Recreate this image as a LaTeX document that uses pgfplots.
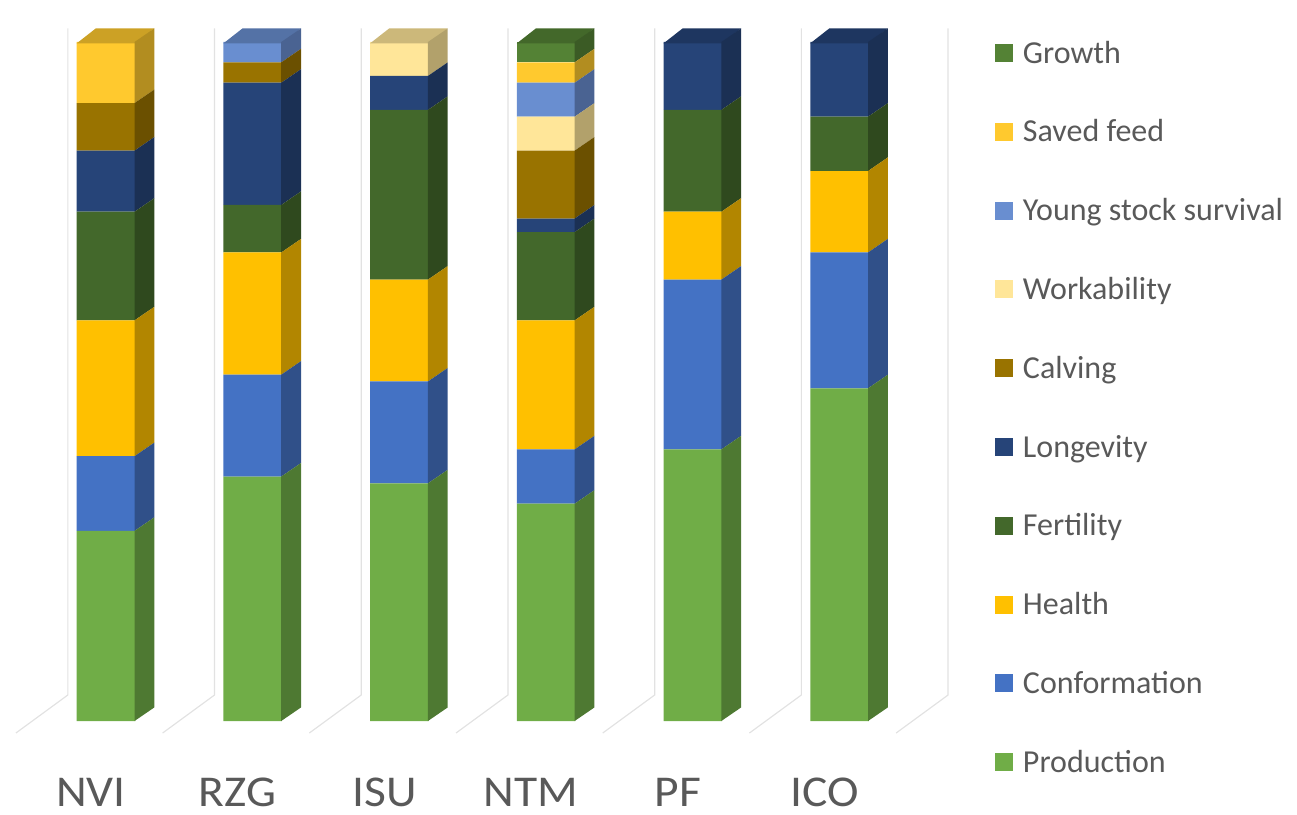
\documentclass[border=0pt]{standalone}
\usepackage{fontspec}
\setmainfont{Carlito}
\usepackage{pgfplots}
\usepackage{pgfplotstable}
\pgfplotsset{compat=1.18}

\definecolor{prod}{HTML}{70AD47}
\definecolor{conf}{HTML}{4472C4}
\definecolor{health}{HTML}{FFC000}
\definecolor{fert}{HTML}{43682B}
\definecolor{long}{HTML}{264478}
\definecolor{calv}{HTML}{997300}
\definecolor{work}{HTML}{FFE699}
\definecolor{young}{HTML}{698ED0}
\definecolor{saved}{HTML}{FFC92E}
\definecolor{growth}{HTML}{548235}
\definecolor{txtgray}{HTML}{595959}
\definecolor{gridgray}{HTML}{E2E2E2}

\pgfplotstableread{
x prod conf health fert long calv work young saved growth
0 28 11 20 16 9 7 0 0 9 0
1 36 15 18 7 18 3 0 3 0 0
2 35 15 15 25 5 0 5 0 0 0
3 32 8 19 13 2 10 5 5 3 3
4 40 25 10 15 10 0 0 0 0 0
5 49 20 12 8 11 0 0 0 0 0
}\data

% side face of a segment: colour, category, lower, upper (cumulative)
\newcommand{\sideface}[4]{%
  \pgfmathsetmacro{\xa}{#2+0.1945}%
  \pgfmathsetmacro{\xb}{#2+0.3295}%
  \pgfmathsetmacro{\ya}{#3+2}%
  \pgfmathsetmacro{\yb}{#4+2}%
  \addplot[sharp plot, stack plots=false, fill=#1!70!black, draw=none, forget plot]
    coordinates {(\xa,#3) (\xb,\ya) (\xb,\yb) (\xa,#4)} -- cycle;}
% top face: colour, category
\newcommand{\topface}[2]{%
  \pgfmathsetmacro{\xa}{#2-0.1995}%
  \pgfmathsetmacro{\xb}{#2+0.1995}%
  \pgfmathsetmacro{\xc}{#2+0.3295}%
  \pgfmathsetmacro{\xd}{#2-0.0695}%
  \addplot[sharp plot, stack plots=false, fill=#1!80!black, draw=none, forget plot]
    coordinates {(\xa,99.8) (\xb,99.8) (\xc,102) (\xd,102)} -- cycle;}
\newcommand{\cat}[1]{\scalebox{1.08}[1]{#1}}

\begin{document}
\begin{tikzpicture}
\path[use as bounding box] (0,0) rectangle (1297pt,814pt);
\begin{axis}[
  at={(0pt,93pt)}, anchor=south west,
  scale only axis, width=946.6pt, height=679pt,
  xmin=-0.7225, xmax=5.73, ymin=0, ymax=100,
  clip=false,
  ybar stacked, bar width=0.399,
  axis line style={draw=none}, major tick length=0pt,
  ytick=\empty,
  xtick={0,1,2,3,4,5},
  xticklabels={\cat{NVI},\cat{RZG},\cat{ISU},\cat{NTM},\cat{PF},\cat{ICO}},
  xticklabel style={anchor=base, yshift=-85pt, xshift=-15pt, inner sep=0pt,
    font=\fontsize{44}{44}\selectfont, text=txtgray},
  reverse legend,
  legend cell align=left,
  legend style={at={(1.0511,1.0044)}, anchor=north west, draw=none, fill=none,
    inner sep=0pt, outer sep=0pt, row sep=47.8pt, column sep=10pt,
    font=\fontsize{32}{32}\selectfont, text=txtgray,
    nodes={inner sep=0pt, text height=24pt, text depth=7pt}},
  legend image code/.code={\fill[#1,draw=none] (0pt,-7.5pt) rectangle (18pt,10.5pt);},
]
% floor and wall grid lines
\addplot[sharp plot, stack plots=false, draw=gridgray, line width=1.2pt, forget plot] coordinates {(-0.614,-1.77) (-0.26,3.83) (-0.26,102)};
\addplot[sharp plot, stack plots=false, draw=gridgray, line width=1.2pt, forget plot] coordinates {(0.386,-1.77) (0.74,3.83) (0.74,102)};
\addplot[sharp plot, stack plots=false, draw=gridgray, line width=1.2pt, forget plot] coordinates {(1.386,-1.77) (1.74,3.83) (1.74,102)};
\addplot[sharp plot, stack plots=false, draw=gridgray, line width=1.2pt, forget plot] coordinates {(2.386,-1.77) (2.74,3.83) (2.74,102)};
\addplot[sharp plot, stack plots=false, draw=gridgray, line width=1.2pt, forget plot] coordinates {(3.386,-1.77) (3.74,3.83) (3.74,102)};
\addplot[sharp plot, stack plots=false, draw=gridgray, line width=1.2pt, forget plot] coordinates {(4.386,-1.77) (4.74,3.83) (4.74,102)};
\addplot[sharp plot, stack plots=false, draw=gridgray, line width=1.2pt, forget plot] coordinates {(5.386,-1.77) (5.74,3.83) (5.74,102)};
% NVI side faces
\sideface{prod}{0}{0}{28}
\sideface{conf}{0}{28}{39}
\sideface{health}{0}{39}{59}
\sideface{fert}{0}{59}{75}
\sideface{long}{0}{75}{84}
\sideface{calv}{0}{84}{91}
\sideface{saved}{0}{91}{100}
\topface{saved}{0}
% RZG
\sideface{prod}{1}{0}{36}
\sideface{conf}{1}{36}{51}
\sideface{health}{1}{51}{69}
\sideface{fert}{1}{69}{76}
\sideface{long}{1}{76}{94}
\sideface{calv}{1}{94}{97}
\sideface{young}{1}{97}{100}
\topface{young}{1}
% ISU
\sideface{prod}{2}{0}{35}
\sideface{conf}{2}{35}{50}
\sideface{health}{2}{50}{65}
\sideface{fert}{2}{65}{90}
\sideface{long}{2}{90}{95}
\sideface{work}{2}{95}{100}
\topface{work}{2}
% NTM
\sideface{prod}{3}{0}{32}
\sideface{conf}{3}{32}{40}
\sideface{health}{3}{40}{59}
\sideface{fert}{3}{59}{72}
\sideface{long}{3}{72}{74}
\sideface{calv}{3}{74}{84}
\sideface{work}{3}{84}{89}
\sideface{young}{3}{89}{94}
\sideface{saved}{3}{94}{97}
\sideface{growth}{3}{97}{100}
\topface{growth}{3}
% PF
\sideface{prod}{4}{0}{40}
\sideface{conf}{4}{40}{65}
\sideface{health}{4}{65}{75}
\sideface{fert}{4}{75}{90}
\sideface{long}{4}{90}{100}
\topface{long}{4}
% ICO
\sideface{prod}{5}{0}{49}
\sideface{conf}{5}{49}{69}
\sideface{health}{5}{69}{81}
\sideface{fert}{5}{81}{89}
\sideface{long}{5}{89}{100}
\topface{long}{5}
% front faces
\addplot[fill=prod, draw=none] table[x=x, y=prod]{\data};
\addlegendentry{Production}
\addplot[fill=conf, draw=none] table[x=x, y=conf]{\data};
\addlegendentry{Conformation}
\addplot[fill=health, draw=none] table[x=x, y=health]{\data};
\addlegendentry{Health}
\addplot[fill=fert, draw=none] table[x=x, y=fert]{\data};
\addlegendentry{Fertility}
\addplot[fill=long, draw=none] table[x=x, y=long]{\data};
\addlegendentry{Longevity}
\addplot[fill=calv, draw=none] table[x=x, y=calv]{\data};
\addlegendentry{Calving}
\addplot[fill=work, draw=none] table[x=x, y=work]{\data};
\addlegendentry{Workability}
\addplot[fill=young, draw=none] table[x=x, y=young]{\data};
\addlegendentry{Young stock survival}
\addplot[fill=saved, draw=none] table[x=x, y=saved]{\data};
\addlegendentry{Saved feed}
\addplot[fill=growth, draw=none] table[x=x, y=growth]{\data};
\addlegendentry{Growth}
\end{axis}
\end{tikzpicture}
\end{document}
